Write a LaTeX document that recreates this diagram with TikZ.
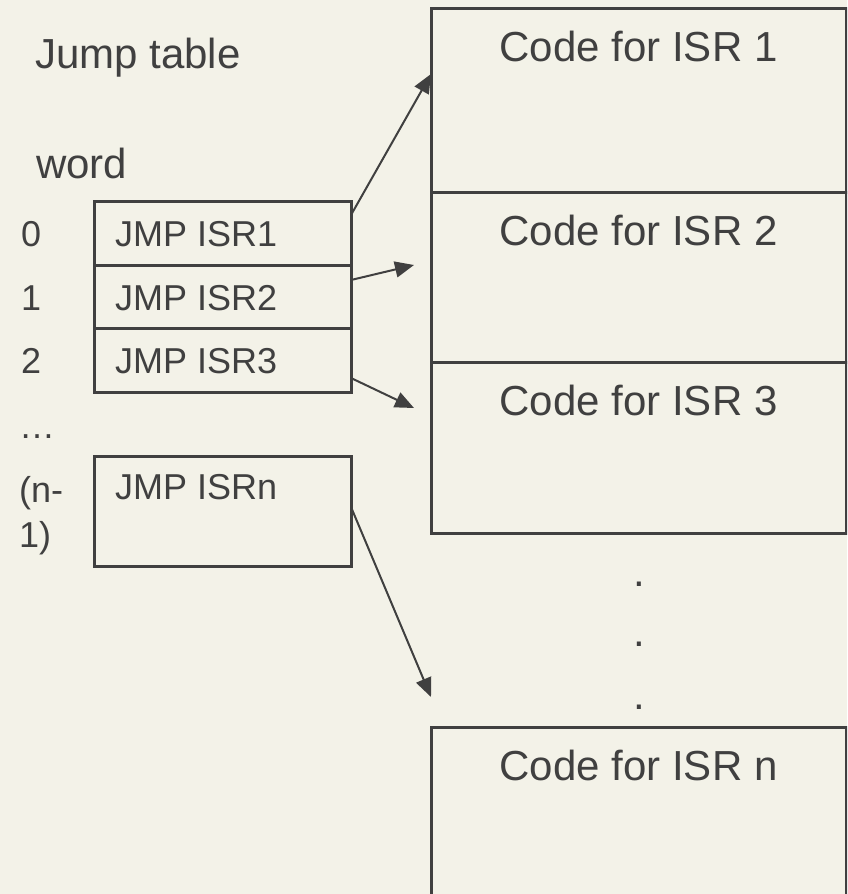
\documentclass[tikz,border=0pt]{standalone}
\usepackage{fontspec}
\setmainfont{Liberation Sans}
\usetikzlibrary{arrows.meta}
\definecolor{paper}{HTML}{F3F2E8}
\definecolor{ink}{HTML}{404040}
\begin{document}
\begin{tikzpicture}[x=1pt,y=-1pt,
  box/.style={draw=ink, line width=3pt, rectangle, inner sep=0pt, outer sep=0pt},
  big/.style={font=\fontsize{42}{50}\selectfont, text=ink, inner sep=0pt},
  small/.style={font=\fontsize{36}{45}\selectfont, text=ink, inner sep=0pt},
  link/.style={draw=ink, line width=2pt, -{Triangle[length=19pt,width=16pt]}}]
\fill[paper] (0,0) rectangle (847,894);
\useasboundingbox (0,0) rectangle (847,894);
\clip (0,0) rectangle (847,894);

% headings
\node[big, anchor=base west] (head) at (35,68) {Jump table};
\node[big, anchor=base west] (word) at (36,178) {word};

% jump table rows
\node[box, minimum width=257pt, minimum height=64pt] (r1) at (222.5,233) {};
\node[box, minimum width=257pt, minimum height=63pt] (r2) at (222.5,296.5) {};
\node[box, minimum width=257pt, minimum height=64pt] (r3) at (222.5,360) {};
\node[box, minimum width=257pt, minimum height=110pt] (rn) at (222.5,511) {};

\node[small, anchor=base west] (j1) at (115,246) {JMP ISR1};
\node[small, anchor=base west] (j2) at (115,310) {JMP ISR2};
\node[small, anchor=base west] (j3) at (115,373) {JMP ISR3};
\node[small, anchor=base west] (jn) at (115,499) {JMP ISRn};

% word indices
\node[small, anchor=base west] (i0) at (21,246) {0};
\node[small, anchor=base west] (i1) at (21,310) {1};
\node[small, anchor=base west] (i2) at (21,373) {2};
\node[small, anchor=base west] (idots) at (19,438) {…};
\node[small, anchor=base west] (in1) at (19,502) {(n-};
\node[small, anchor=base west] (in2) at (19,547) {1)};

% service routine blocks
\node[box, minimum width=415pt, minimum height=184pt] (c1) at (638.5,100) {};
\node[box, minimum width=415pt, minimum height=170pt] (c2) at (638.5,277) {};
\node[box, minimum width=415pt, minimum height=171pt] (c3) at (638.5,447.5) {};
\node[box, minimum width=415pt, minimum height=200pt] (cn) at (638.5,827) {};

\node[big, anchor=base] (t1) at ([yshift=-53pt]c1.north) {Code for ISR 1};
\node[big, anchor=base] (t2) at ([yshift=-53pt]c2.north) {Code for ISR 2};
\node[big, anchor=base] (t3) at ([yshift=-53pt]c3.north) {Code for ISR 3};
\node[big, anchor=base] (tn) at ([yshift=-53pt]cn.north) {Code for ISR n};

% vertical ellipsis
\node[big, anchor=base] (d1) at (639,586) {.};
\node[big, anchor=base] (d2) at (639,646) {.};
\node[big, anchor=base] (d3) at (639,709) {.};

% jump links
\coordinate (s1) at ([yshift=-14pt]r1.north east);
\coordinate (e1) at ([yshift=-66pt]c1.north west);
\coordinate (s2) at ([yshift=-15pt]r2.north east);
\coordinate (e2) at ([xshift=-17pt,yshift=-73pt]c2.north west);
\coordinate (s3) at ([yshift=-50pt]r3.north east);
\coordinate (e3) at ([xshift=-17pt,yshift=-46pt]c3.north west);
\coordinate (sn) at ([yshift=-51pt]rn.north east);
\coordinate (en) at ([yshift=-164pt]c3.south west);

\draw[link] (s1) -- (e1);
\draw[link] (s2) -- (e2);
\draw[link] (s3) -- (e3);
\draw[link] (sn) -- (en);
\end{tikzpicture}
\end{document}
